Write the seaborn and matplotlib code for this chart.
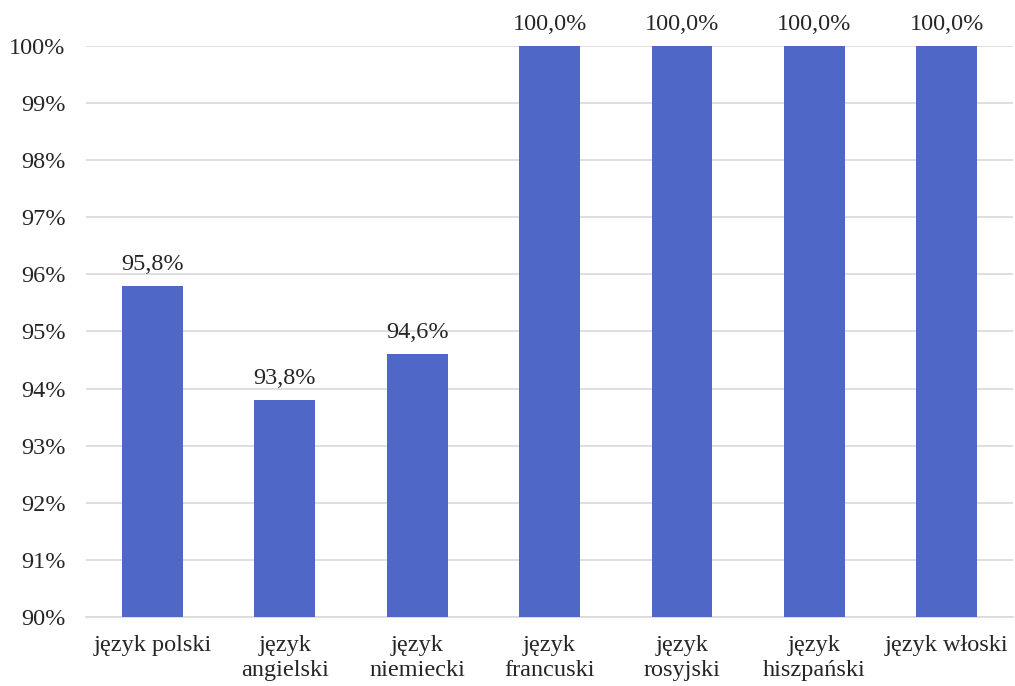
import matplotlib
matplotlib.use('Agg')
import matplotlib.pyplot as plt
import seaborn as sns
import pandas as pd

# Dane z wykresu
jezyki = ['język polski', 'język\nangielski', 'język\nniemiecki', 'język\nfrancuski',
          'język\nrosyjski', 'język\nhiszpański', 'język włoski']
wartosci = [95.8, 93.8, 94.6, 100.0, 100.0, 100.0, 100.0]
etykiety = ['95,8%', '93,8%', '94,6%', '100,0%', '100,0%', '100,0%', '100,0%']
ticki = list(range(90, 101))

df = pd.DataFrame({'Język': jezyki, 'Wynik': wartosci})

sns.set_style('white')
plt.rcParams['font.family'] = ['Liberation Serif', 'DejaVu Serif']

fig = plt.figure(figsize=(10.15, 6.86), dpi=100)
ax = fig.add_axes([0.085, 0.1006, 0.913, 0.8324])

sns.barplot(data=df, x='Język', y='Wynik', color='#4F68C8', width=0.46,
            saturation=1, linewidth=0, ax=ax, zorder=3)

ax.set_ylim(90, 100)
ax.set_yticks(ticki)
ax.set_yticklabels([f'{t}%' for t in ticki], fontsize=17.5)
ax.set_xlim(-0.5, 6.5)
ax.tick_params(axis='x', labelsize=17.5, length=0, pad=13)
ax.tick_params(axis='y', length=0, pad=15)
ax.yaxis.grid(True, color='#D9D9D9', linewidth=1.2, zorder=0)
ax.set_xlabel('')
ax.set_ylabel('')
for s in ['top', 'right', 'left']:
    ax.spines[s].set_visible(False)
ax.spines['bottom'].set_color('#D9D9D9')
ax.spines['bottom'].set_linewidth(1.2)

for lab in ax.get_xticklabels():
    lab.set_linespacing(1.25)

for i, (v, t) in enumerate(zip(wartosci, etykiety)):
    ax.annotate(t, (i, v), xytext=(0, 8), textcoords='offset points',
                ha='center', va='bottom', fontsize=17.5, annotation_clip=False)

fig.savefig('out.png', dpi=100)
